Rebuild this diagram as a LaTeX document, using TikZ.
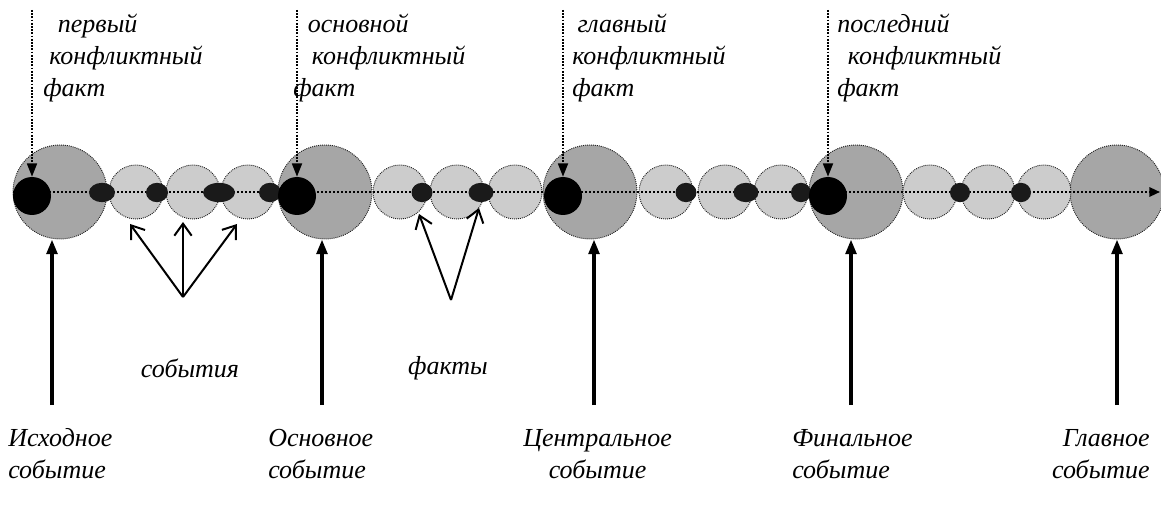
\documentclass[tikz,border=0pt]{standalone}
\usepackage{fontspec}
\setmainfont{Liberation Serif}
\usepackage{xcolor}
\definecolor{bigfill}{RGB}{166,166,166}
\definecolor{smallfill}{RGB}{204,204,204}
\definecolor{factfill}{RGB}{26,26,26}
\definecolor{rim}{RGB}{30,30,30}
\usepackage{tikz}
\usetikzlibrary{arrows.meta,shapes.geometric}
\tikzset{
  %% circles on the time line
  bigev/.style={circle, draw=rim, line width=0.7pt, dash pattern=on 0.7pt off 0.8pt,
                fill=bigfill, inner sep=0pt, minimum size=70.5pt},
  smallev/.style={circle, draw=rim, line width=0.7pt, dash pattern=on 0.7pt off 0.8pt,
                  fill=smallfill, inner sep=0pt, minimum size=40.5pt},
  fact/.style={ellipse, fill=factfill, inner sep=0pt, minimum height=14.5pt},
  conflict/.style={circle, fill=black, inner sep=0pt, minimum size=28.5pt},
  %% connectors
  axisline/.style={line width=1.6pt, dash pattern=on 1.6pt off 1.4pt,
                   -{Triangle[length=8pt,width=7pt]}},
  pointer/.style={line width=1.3pt, dash pattern=on 1.3pt off 1.1pt,
                  -{Triangle[length=10pt,width=7.5pt]}},
  mainarrow/.style={line width=2.6pt, -{Triangle[length=11pt,width=8pt]}},
  hint/.style={line width=1.5pt, -{Straight Barb[length=9pt,width=13pt]}},
  lbl/.style={font=\fontsize{19.5}{24}\selectfont\itshape, inner sep=0pt},
}

\begin{document}
\begin{tikzpicture}[x=0.75pt,y=-0.75pt]
\fill[white] (0,0) rectangle (1161,506);
\useasboundingbox (0,0) rectangle (1161,506);

%% events and facts
\foreach \x [count=\i] in {60,325,590,856,1117}
  \node[bigev] (b\i) at (\x,192) {};
\foreach \x [count=\i] in {136,193,248,400,457,515,666,725,781,930,988,1044}
  \node[smallev] (s\i) at (\x,192) {};
\coordinate (ax0) at (13,192);
\coordinate (ax1) at (1160,192);
\draw[axisline] (ax0) -- (ax1);
\foreach \x/\w [count=\i] in {102/26,157/22,219/32,270/22,422/21,481/25,
                              686/21,746/25,801/20,960/20,1021/20}
  \node[fact, minimum width=\w*0.75pt] (f\i) at (\x,192.5) {};
\foreach \x [count=\i] in {32,297,563,828}
  \node[conflict] (d\i) at (\x,196) {};

%% conflict facts from above
\foreach \x [count=\i] in {32,297,563,828}
  \coordinate (p\i) at (\x,10);
\foreach \i in {1,...,4}
  \draw[pointer] (p\i) -- (d\i);
\node[lbl, anchor=north west, align=left] (t1) at (43,10)
  {\strut\hspace*{11pt}первый\\\hspace*{4.5pt}конфликтный\\факт};
\node[lbl, anchor=north west, align=left] (t2) at (293,10)
  {\strut\hspace*{11pt}основной\\\hspace*{14pt}конфликтный\\факт};
\node[lbl, anchor=north west, align=left] (t3) at (572,10)
  {\strut\hspace*{4pt}главный\\конфликтный\\факт};
\node[lbl, anchor=north west, align=left] (t4) at (837,10)
  {\strut последний\\\hspace*{8pt}конфликтный\\факт};

%% main events from below
\foreach \x [count=\i] in {52,322,594,851,1117}
  \coordinate (q\i) at (\x,405);
\foreach \i in {1,...,5}
  \draw[mainarrow] (q\i) -- (q\i |- b\i.south);
\node[lbl, anchor=north west, align=left] (n1) at (8,424) {\strut Исходное\\событие};
\node[lbl, anchor=north west, align=left] (n2) at (268,424) {\strut Основное\\событие};
\node[lbl, anchor=north west, align=center] (n3) at (523,424) {\strut Центральное\\событие};
\node[lbl, anchor=north west, align=left] (n4) at (792,424) {\strut Финальное\\событие};
\node[lbl, anchor=north east, align=right] (n5) at (1150,424) {\strut Главное\\событие};

%% events and facts pointers
\coordinate (ev) at (183,297);
\coordinate (e1) at (130,224);
\coordinate (e2) at (183,222);
\coordinate (e3) at (237,224);
\foreach \i in {1,2,3}
  \draw[hint] (ev) -- (e\i);
\coordinate (fc) at (451,300);
\coordinate (g1) at (419,214);
\coordinate (g2) at (479,208);
\foreach \i in {1,2}
  \draw[hint] (fc) -- (g\i);
\node[lbl] (evl) at (190,368) {события};
\node[lbl] (fcl) at (448,368) {факты};
\end{tikzpicture}
\end{document}
